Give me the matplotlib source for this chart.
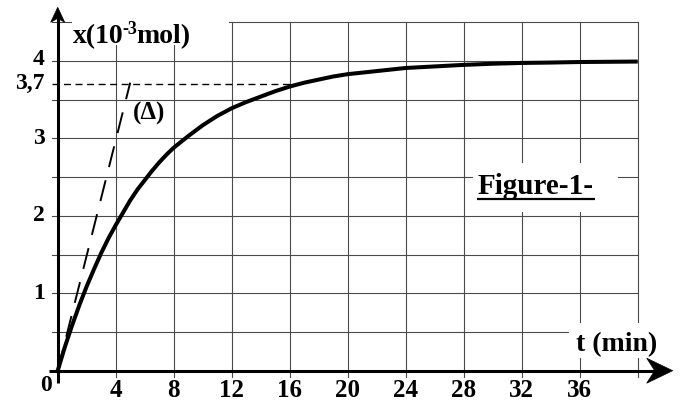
import numpy as np
import matplotlib
matplotlib.use("Agg")
import matplotlib.pyplot as plt
import matplotlib.transforms as mtransforms
from matplotlib.patches import Polygon, Rectangle

# ---------------- data ----------------
t_min = [0, 0.5, 1, 1.5, 2, 2.5, 3, 3.5, 4, 4.5, 5, 5.5, 6, 6.5, 7, 7.5, 8,
         9, 10, 11, 12, 13, 14, 15, 16, 17, 18, 19, 20,
         22, 24, 26, 28, 30, 32, 34, 36, 38, 40]
x_mmol = [0.0, 0.31, 0.59, 0.85, 1.09, 1.31, 1.52, 1.71, 1.88, 2.04, 2.20,
          2.34, 2.46, 2.58, 2.69, 2.79, 2.88,
          3.03, 3.17, 3.29, 3.39, 3.47, 3.54, 3.61, 3.67, 3.72, 3.76, 3.80, 3.83,
          3.87, 3.91, 3.93, 3.95, 3.965, 3.975, 3.98, 3.987, 3.99, 3.993]
tangent_t = [0.0, 5.0]
tangent_x = [0.0, 3.72]
ref_level = 3.7
ref_t_end = 16.0
xtick_vals = [4, 8, 12, 16, 20, 24, 28, 32, 36]
xtick_labels = ["4", "8", "12", "16", "20", "24", "28", "32", "36"]
ytick_vals = [1, 2, 3, 4]
ytick_labels = ["1", "2", "3", "4"]
ref_label = "3,7"

# ---------------- figure / layout ----------------
plt.rcParams['font.family'] = ['Liberation Serif', 'DejaVu Serif']
plt.rcParams['font.weight'] = 'bold'

W, H = 680, 405
fig = plt.figure(figsize=(W / 100, H / 100), dpi=100)
L_px, R_px, Y0_px, TOP_px = 57.7, 637.7, 370.7, 22.3
ax = fig.add_axes([L_px / W, (H - Y0_px) / H, (R_px - L_px) / W, (Y0_px - TOP_px) / H])
ax.set_xlim(0, 40)
ax.set_ylim(0, 4.5)
ax.axis('off')
sx = (R_px - L_px) / 40.0     # px per minute
sy = (Y0_px - TOP_px) / 4.5   # px per unit

def px_t(px):
    return (px - L_px) / sx

def px_x(py):
    return (Y0_px - py) / sy

PT = 0.72  # points per pixel at 100 dpi

# grid
gcol = '#4a4a4a'
for tv in range(4, 41, 4):
    ax.plot([tv, tv], [-6 / sy, 4.5], color=gcol, lw=0.8, clip_on=False, zorder=1)
for yv in np.arange(0.5, 4.51, 0.5):
    ax.plot([-6 / sx, 40], [yv, yv], color=gcol, lw=0.8, clip_on=False, zorder=1)

# white boxes behind labels
def white_box(x0px, x1px, y0px, y1px):
    ax.add_patch(Rectangle((px_t(x0px), px_x(y1px)), px_t(x1px) - px_t(x0px),
                           px_x(y0px) - px_x(y1px), facecolor='white',
                           edgecolor='none', zorder=2, clip_on=False))

white_box(72, 229, 0, 45)
white_box(472.7, 618, 162.7, 211.7)
white_box(569, 647, 323, 358)

# axes lines with arrows
ax.plot([-9 / sx, 40 + 17 / sx], [0, 0], color='black', lw=2.2, clip_on=False,
        zorder=5, solid_capstyle='butt')
ax.plot([0, 0], [-12 / sy, 4.5 + 5 / sy], color='black', lw=2.2, clip_on=False,
        zorder=5, solid_capstyle='butt')

def arrowhead(xy_axes, verts_px):
    off = mtransforms.ScaledTranslation(xy_axes[0], xy_axes[1], ax.transAxes)
    tr = mtransforms.Affine2D().scale(1 / 100.0) + fig.dpi_scale_trans + off
    ax.add_patch(Polygon(np.array(verts_px, dtype=float), closed=True,
                         transform=tr, facecolor='black', edgecolor='black',
                         lw=0.5, zorder=6, clip_on=False))

# x arrow: tip 35 px beyond right end of grid
arrowhead((1.0, 0.0), [(35, 0), (9, 12.5), (17, 0), (9, -12.5)])
# y arrow: tip 15 px above top of grid
arrowhead((0.0, 1.0), [(0, 15), (-7, 0), (0, 4), (7, 0)])

# reference dashed line at 3.7
ln, = ax.plot([-6 / sx, ref_t_end], [ref_level, ref_level], color='black',
              lw=1.0, clip_on=False, zorder=3)
ln.set_dashes((5, 3.3))

# tangent (Delta)
tg, = ax.plot(tangent_t, tangent_x, color='black', lw=1.4, zorder=3, clip_on=False)
tg.set_dashes((11, 7))

# curve
ax.plot(t_min, x_mmol, color='black', lw=2.9, zorder=4, clip_on=False,
        solid_capstyle='butt', solid_joinstyle='round')

# tick labels
for tv, lab in zip(xtick_vals, xtick_labels):
    ax.annotate(lab, xy=(tv, 0), xytext=(0, -8 * PT), textcoords='offset points',
                ha='center', va='top', fontsize=18, fontweight='bold')
for yv, lab in zip(ytick_vals, ytick_labels):
    dy = 1.5 if yv == 4 else 0
    ax.annotate(lab, xy=(0, yv), xytext=(-13 * PT, dy * PT), textcoords='offset points',
                ha='right', va='center', fontsize=17, fontweight='bold')
ax.annotate(ref_label, xy=(0, ref_level), xytext=(-13 * PT, 0.5 * PT),
            textcoords='offset points', ha='right', va='center', fontsize=17,
            fontweight='bold')
ax.annotate("0", xy=(0, 0), xytext=(-12 * PT, -15 * PT), textcoords='offset points',
            ha='center', va='center', fontsize=17, fontweight='bold')

# y-axis label x(10^-3 mol)
t1 = ax.annotate("x(10", xy=(0, 4.5), xytext=(15.5 * PT, -21 * PT),
                 textcoords='offset points', ha='left', va='baseline',
                 fontsize=20, fontweight='bold', zorder=7)
t2 = ax.annotate("-3", xy=(1, 0), xycoords=t1, xytext=(-1.0, 8),
                 textcoords='offset points', ha='left', va='bottom',
                 fontsize=13, fontweight='bold', zorder=7)
t3 = ax.annotate("mol)", xy=(1, 0), xycoords=(t2, t1), xytext=(-0.5, 0),
                 textcoords='offset points', ha='left', va='bottom',
                 fontsize=20, fontweight='bold', zorder=7)

# x-axis label
ax.annotate("t (min)", xy=(40, 0), xytext=(-20.7 * PT, 25.7 * PT),
            textcoords='offset points', ha='center', va='center',
            fontsize=20, fontweight='bold', zorder=7)

# (Delta) label
ax.annotate("(Δ)", xy=(tangent_t[1], tangent_x[1]), xytext=(3 * PT, -31 * PT),
            textcoords='offset points', ha='left', va='center',
            fontsize=18, fontweight='bold', zorder=7)

# Figure-1- caption
ax.text(px_t(536), px_x(186), "Figure-1-", ha='center', va='center',
        fontsize=21, fontweight='bold', zorder=7)
ax.plot([px_t(476.7), px_t(595)], [px_x(199), px_x(199)], color='black', lw=1.6,
        zorder=7, solid_capstyle='butt')

fig.savefig("out.png", dpi=100)
